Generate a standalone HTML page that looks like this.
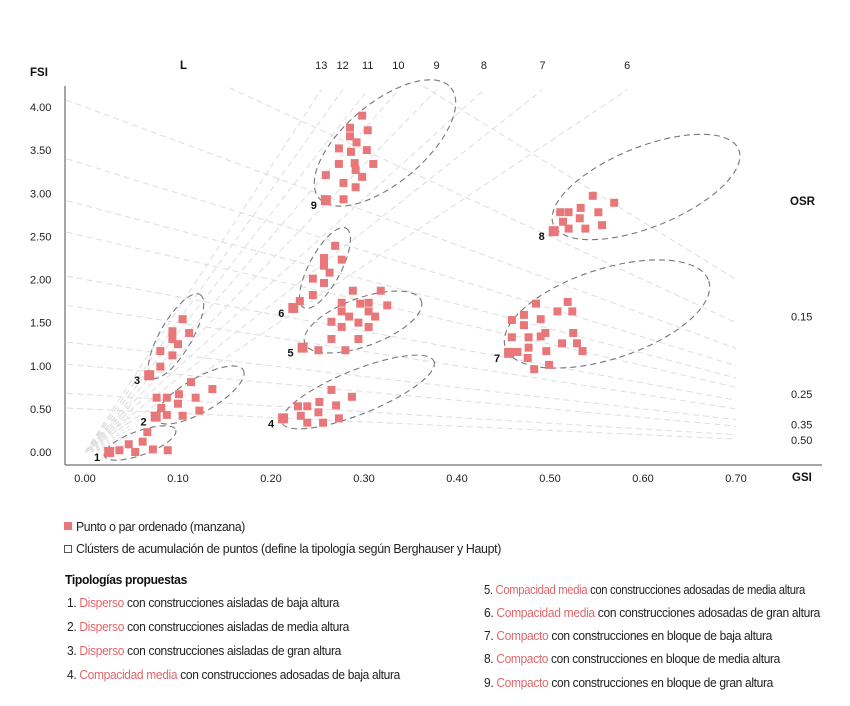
<!DOCTYPE html>
<html><head><meta charset="utf-8"><style>
html,body{margin:0;padding:0;background:#fff;}
svg{display:block;font-family:"Liberation Sans",sans-serif;}
.t{font-size:12.5px;fill:#222;letter-spacing:-0.35px;}
.r{fill:#e0666b;}
.tick{font-size:11px;fill:#222;}
.b{font-weight:bold;font-size:11.5px;fill:#111;}
</style></head><body>
<svg id="chart" width="850" height="706" viewBox="0 0 850 706">
<g id="grid"></g>
<g id="ellipses"></g>
<g id="points"></g>
<g id="axes">
<line x1="65" y1="86" x2="65" y2="465" stroke="#888" stroke-width="1.5"/>
<line x1="65" y1="465" x2="822" y2="465" stroke="#888" stroke-width="1.5"/>
<text x="30" y="76" class="b">FSI</text>
<text x="792" y="481" class="b">GSI</text>
<text x="790" y="205" class="b">OSR</text>
<text x="180" y="69" class="b">L</text>
</g>
<g id="labels"></g>
<g>
<rect x="64" y="522" width="8" height="8" fill="#e8777a"/>
<text x="76" y="531" class="t" textLength="169" lengthAdjust="spacingAndGlyphs">Punto o par ordenado (manzana)</text>
<rect x="64.5" y="545.5" width="7" height="7" fill="none" stroke="#555"/>
<text x="76" y="553" class="t" textLength="425" lengthAdjust="spacingAndGlyphs">Clústers de acumulación de puntos (define la tipología según Berghauser y Haupt)</text>
<text x="65" y="584" class="t" style="font-weight:bold;fill:#111" textLength="122" lengthAdjust="spacingAndGlyphs">Tipologías propuestas</text>
<text x="67" y="607" class="t" textLength="272" lengthAdjust="spacingAndGlyphs">1. <tspan class="r">Disperso</tspan> con construcciones aisladas de baja altura</text>
<text x="67" y="631" class="t" textLength="282" lengthAdjust="spacingAndGlyphs">2. <tspan class="r">Disperso</tspan> con construcciones aisladas de media altura</text>
<text x="67" y="655" class="t" textLength="274" lengthAdjust="spacingAndGlyphs">3. <tspan class="r">Disperso</tspan> con construcciones aisladas de gran altura</text>
<text x="67" y="679" class="t" textLength="333" lengthAdjust="spacingAndGlyphs">4. <tspan class="r">Compacidad media</tspan> con construcciones adosadas de baja altura</text>
<text x="484" y="594" class="t" textLength="321" lengthAdjust="spacingAndGlyphs">5. <tspan class="r">Compacidad media</tspan> con construcciones adosadas de media altura</text>
<text x="484" y="617" class="t" textLength="336" lengthAdjust="spacingAndGlyphs">6. <tspan class="r">Compacidad media</tspan> con construcciones adosadas de gran altura</text>
<text x="484" y="640" class="t" textLength="288" lengthAdjust="spacingAndGlyphs">7. <tspan class="r">Compacto</tspan> con construcciones en bloque de baja altura</text>
<text x="484" y="663" class="t" textLength="296" lengthAdjust="spacingAndGlyphs">8. <tspan class="r">Compacto</tspan> con construcciones en bloque de media altura</text>
<text x="484" y="687" class="t" textLength="289" lengthAdjust="spacingAndGlyphs">9. <tspan class="r">Compacto</tspan> con construcciones en bloque de gran altura</text>
</g>
</svg>
<script>
const xTicks=[0,0.1,0.2,0.3,0.4,0.5,0.6,0.7];
const yTicks=[0,0.5,1,1.5,2,2.5,3,3.5,4];
const lLabels=["13","12","11","10","9","8","7","6"];
const lLabelGsi=[0.254,0.277,0.304,0.337,0.378,0.429,0.492,0.583];
const osrLabels=["0.15","0.25","0.35","0.50"];
const osrLabelFsi=[1.57,0.67,0.32,0.14];
const clusterIds=[1,1,1,1,1,1,1,1,2,2,2,2,2,2,2,2,2,2,2,2,3,3,3,3,3,3,3,3,3,4,4,4,4,4,4,4,4,4,4,4,4,5,5,5,5,5,5,5,5,5,5,5,5,5,5,5,5,5,5,5,6,6,6,6,6,6,6,6,6,6,9,9,9,9,9,9,9,9,9,9,9,9,9,9,9,9,9,9,8,8,8,8,8,8,8,8,8,8,8,8,7,7,7,7,7,7,7,7,7,7,7,7,7,7,7,7,7,7,7,7,7,7,7];
const gsiValues=[0.026,0.037,0.047,0.054,0.062,0.067,0.073,0.089,
0.076,0.077,0.082,0.088,0.088,0.101,0.100,0.105,0.114,0.119,0.123,0.137,
0.069,0.081,0.081,0.094,0.094,0.100,0.094,0.112,0.105,
0.213,0.229,0.239,0.232,0.239,0.252,0.251,0.256,0.265,0.270,0.273,0.287,
0.234,0.251,0.265,0.265,0.276,0.276,0.276,0.284,0.280,0.288,0.294,0.294,0.296,0.305,0.305,0.305,0.312,0.318,0.325,
0.224,0.231,0.245,0.257,0.245,0.263,0.257,0.257,0.276,0.269,
0.259,0.278,0.291,0.278,0.259,0.298,0.291,0.290,0.273,0.310,0.286,0.303,0.273,0.292,0.285,0.285,0.304,0.298,
0.504,0.514,0.520,0.511,0.520,0.533,0.532,0.538,0.546,0.552,0.556,0.569,
0.456,0.465,0.459,0.459,0.472,0.472,0.477,0.477,0.476,0.483,0.485,0.490,0.490,0.495,0.496,0.499,0.508,0.513,0.519,0.524,0.525,0.529,0.535];
const fsiValues=[0.00,0.02,0.09,0.00,0.12,0.23,0.03,0.02,
0.41,0.63,0.51,0.63,0.43,0.67,0.56,0.42,0.81,0.63,0.48,0.73,
0.89,0.99,1.17,1.12,1.31,1.25,1.40,1.38,1.54,
0.39,0.53,0.53,0.42,0.34,0.58,0.46,0.34,0.72,0.54,0.39,0.64,
1.21,1.18,1.31,1.51,1.45,1.63,1.73,1.57,1.18,1.87,1.50,1.31,1.72,1.73,1.63,1.45,1.57,1.87,1.70,
1.67,1.75,1.82,1.96,2.01,2.08,2.16,2.25,2.23,2.39,
2.92,2.93,3.07,3.12,3.21,3.19,3.27,3.35,3.34,3.34,3.48,3.50,3.52,3.59,3.66,3.76,3.73,3.90,
2.56,2.67,2.59,2.78,2.78,2.83,2.71,2.59,2.97,2.78,2.63,2.89,
1.15,1.16,1.53,1.33,1.59,1.47,1.33,1.21,1.09,0.96,1.72,1.54,1.34,1.38,1.17,1.01,1.63,1.26,1.74,1.63,1.38,1.26,1.17];
const osrValues=[0.15,0.2,0.25,0.3,0.35,0.4,0.5,0.6,0.8,1.0,1.5,2.0];
const lValues=[1,2,3,4,5,6,7,8,9,10,11,12,13];

const NS="http://www.w3.org/2000/svg";
const X0=85,XS=930,Y0=452,YS=86.25,XMAX=0.75,YMAX=4.24;
const sx=g=>X0+g*XS, sy=f=>Y0-f*YS;
function mk(tag,attrs,parent){const e=document.createElementNS(NS,tag);for(const k in attrs)e.setAttribute(k,attrs[k]);parent.appendChild(e);return e;}
const grid=document.getElementById('grid'),axes=document.getElementById('axes'),pts=document.getElementById('points'),ell=document.getElementById('ellipses'),labels=document.getElementById('labels');

const defs=mk('defs',{},document.getElementById('chart'));
const cp=mk('clipPath',{id:'pc'},defs);mk('rect',{x:66,y:86,width:670,height:378},cp);
grid.setAttribute('clip-path','url(#pc)');
osrValues.forEach(o=>{
 const l=mk('line',{x1:sx(-0.03),y1:sy((1.03)/o),x2:sx(XMAX),y2:sy((1-XMAX)/o),stroke:'#ddd','stroke-dasharray':'6 4','stroke-width':1},grid);
 
 
});
lLabelGsi.forEach(g=>{
 const l=mk('line',{x1:sx(0),y1:sy(0),x2:sx(g),y2:sy(4.2),stroke:'#ddd','stroke-dasharray':'6 4'},grid);
 
 
});
lValues.forEach(L=>{
 const l=mk('line',{x1:sx(0),y1:sy(0),x2:sx(0.05),y2:sy(0.05*L*0.9),stroke:'#e2e2e2','stroke-dasharray':'3 3'},grid);
 
 
});

xTicks.forEach(v=>{
 const t=mk('text',{x:sx(v),y:482,'text-anchor':'middle',class:'tick'},axes);t.textContent=v.toFixed(2);
 
 
});
yTicks.forEach(v=>{
 const t=mk('text',{x:30,y:sy(v)+4,class:'tick'},axes);t.textContent=v.toFixed(2);
 
 
});
lLabels.forEach((s,i)=>{
 const t=mk('text',{x:sx(lLabelGsi[i]),y:69,'text-anchor':'middle',class:'tick'},axes);t.textContent=s;
 
 
});
osrLabels.forEach((s,i)=>{
 const t=mk('text',{x:791,y:sy(osrLabelFsi[i])+4,class:'tick'},axes);t.textContent=s;
 
 
});

const E=[[140,443,38,12,-20],[200,395,50,17,-30],[176,336,48,16,-60],[358,392,82,22,-22],[363,322,62,24,-20],[325,268,45,16,-62],[385,143,86,40,-40],[646,187,100,40,-22],[607,314,107,45,-18]];
E.forEach(e=>{
 const el=mk('ellipse',{cx:e[0],cy:e[1],rx:e[2],ry:e[3],transform:`rotate(${e[4]} ${e[0]} ${e[1]})`,fill:'none',stroke:'#777','stroke-dasharray':'6 4','stroke-width':1.1},ell);
 
 
});

const seen={};
gsiValues.forEach((g,i)=>{
 const c=clusterIds[i];const first=!seen[c];seen[c]=true;
 const s=first?10:8;
 const r=mk('rect',{x:sx(g)-s/2,y:sy(fsiValues[i])-s/2,width:s,height:s,fill:'#e8777a'},pts);
 
 
 if(first){
  const t=mk('text',{x:sx(g)-9,y:sy(fsiValues[i])+9,'text-anchor':'end',class:'b',style:'font-size:11px'},labels);
  t.textContent=String(c);
  
  
 }
});
</script>
</body></html>
